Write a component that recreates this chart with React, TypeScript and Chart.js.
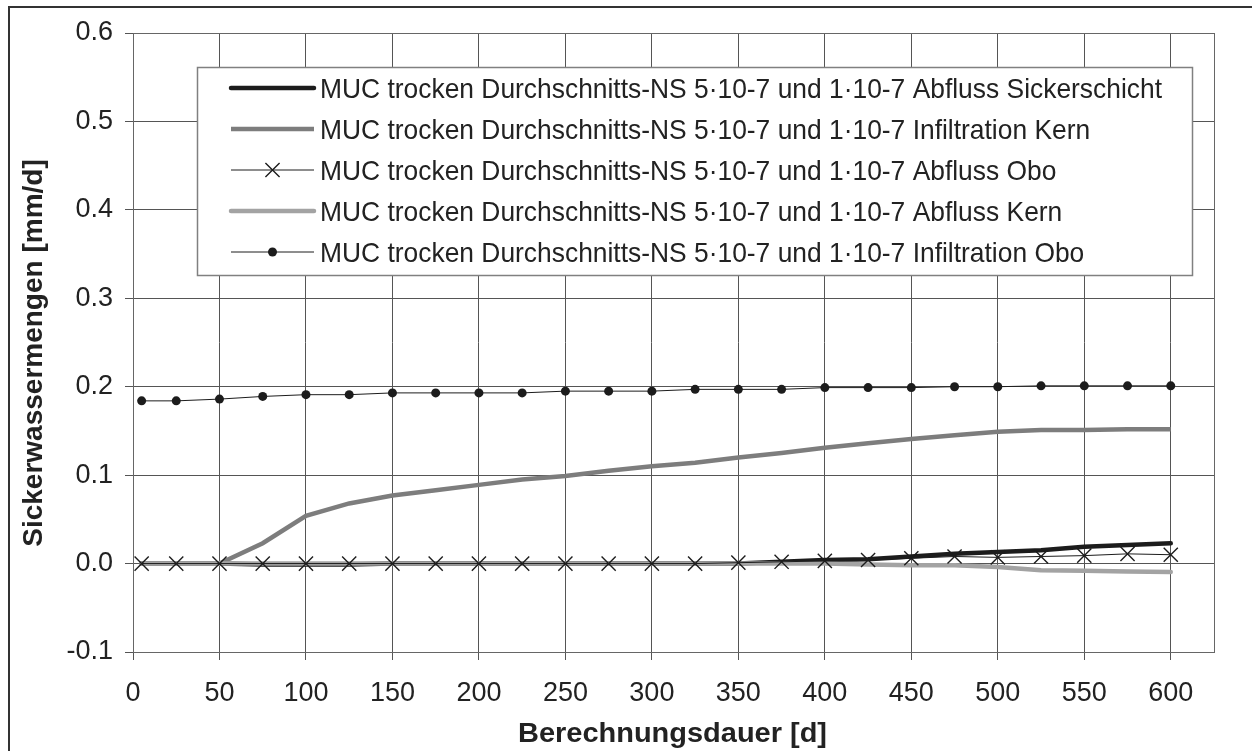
import React, { useEffect, useRef } from 'react';
import { Chart, registerables } from 'chart.js';

Chart.register(...registerables);

// ---- data ----
const days = [5, 25, 50, 75, 100, 125, 150, 175, 200, 225, 250, 275, 300, 325, 350, 375, 400, 425, 450, 475, 500, 525, 550, 575, 600];

const abflussSickerschicht = [0, 0, 0, -0.001, -0.001, -0.001, 0, 0, 0, 0, 0, 0, 0, 0, 0, 0.002, 0.004, 0.005, 0.008, 0.011, 0.013, 0.015, 0.019, 0.021, 0.023];
const infiltrationKern = [0, 0, 0, 0.023, 0.054, 0.068, 0.077, 0.083, 0.089, 0.095, 0.099, 0.105, 0.110, 0.114, 0.120, 0.125, 0.131, 0.136, 0.141, 0.145, 0.149, 0.151, 0.151, 0.152, 0.152];
const abflussObo = [0, 0, 0, 0, 0, 0, 0, 0, 0, 0, 0, 0, 0, 0, 0.001, 0.002, 0.003, 0.004, 0.006, 0.008, 0.007, 0.008, 0.009, 0.011, 0.010];
const abflussKern = [0, 0, 0, 0, 0, 0, 0, 0, 0, 0, 0, 0, 0, 0, 0, 0, 0, -0.001, -0.002, -0.002, -0.004, -0.0075, -0.008, -0.009, -0.0095];
const infiltrationObo = [0.184, 0.184, 0.186, 0.189, 0.191, 0.191, 0.193, 0.193, 0.193, 0.193, 0.195, 0.195, 0.195, 0.197, 0.197, 0.197, 0.199, 0.199, 0.199, 0.2, 0.2, 0.201, 0.201, 0.201, 0.201];

const prefix = 'MUC trocken Durchschnitts-NS 5·10-7 und 1·10-7 ';
const seriesLabels = [
  prefix + 'Abfluss Sickerschicht',
  prefix + 'Infiltration Kern',
  prefix + 'Abfluss Obo',
  prefix + 'Abfluss Kern',
  prefix + 'Infiltration Obo',
];

const xTitle = 'Berechnungsdauer [d]';
const yTitle = 'Sickerwassermengen [mm/d]';

const FONT = '"Liberation Sans", Arial, sans-serif';
const TEXT = '#222';

const toPts = (ys: number[]) => ys.map((y, i) => ({ x: days[i], y }));

const decorPlugin = {
  id: 'decor',
  beforeDraw(chart: any) {
    const ctx = chart.ctx;
    ctx.save();
    ctx.fillStyle = '#fff';
    ctx.fillRect(0, 0, chart.width, chart.height);
    ctx.restore();
  },
  afterDraw(chart: any) {
    const { ctx, chartArea: a } = chart;
    ctx.save();
    // plot area frame
    ctx.strokeStyle = '#666';
    ctx.lineWidth = 1;
    ctx.strokeRect(Math.round(a.left) + 0.5, Math.round(a.top) + 0.5, Math.round(a.right - a.left), Math.round(a.bottom - a.top));
    // outer frame (left + top visible)
    ctx.strokeStyle = '#333';
    ctx.lineWidth = 2;
    ctx.beginPath();
    ctx.moveTo(9, chart.height + 5);
    ctx.lineTo(9, 7);
    ctx.lineTo(chart.width + 5, 7);
    ctx.stroke();

    // legend
    const box = { l: 197, t: 67, r: 1192, b: 275 };
    ctx.fillStyle = '#fff';
    ctx.fillRect(box.l, box.t, box.r - box.l, box.b - box.t);
    ctx.strokeStyle = '#808080';
    ctx.lineWidth = 1.5;
    ctx.strokeRect(box.l + 0.5, box.t + 0.5, box.r - box.l, box.b - box.t);

    const rowY0 = 88;
    const rowStep = 41;
    const lx0 = 231, lx1 = 314, tx = 320;
    ctx.font = `28px ${FONT}`;
    const w = ctx.measureText(seriesLabels[0]).width;
    const sx = 842 / w;
    chart.data.datasets.forEach((ds: any, i: number) => {
      const y = rowY0 + i * rowStep;
      ctx.strokeStyle = ds.borderColor;
      ctx.lineWidth = ds.borderWidth;
      ctx.lineCap = ds.borderCapStyle || 'butt';
      ctx.beginPath();
      ctx.moveTo(lx0, y);
      ctx.lineTo(lx1, y);
      ctx.stroke();
      const mx = (lx0 + lx1) / 2;
      if (ds.pointStyle === 'circle' && ds.pointRadius > 0) {
        ctx.fillStyle = ds.pointBackgroundColor;
        ctx.beginPath();
        ctx.arc(mx, y, ds.pointRadius, 0, Math.PI * 2);
        ctx.fill();
      } else if (ds.pointStyle === 'crossRot' && ds.pointRadius > 0) {
        const o = ds.pointRadius * Math.SQRT1_2;
        ctx.strokeStyle = ds.pointBorderColor;
        ctx.lineWidth = ds.pointBorderWidth;
        ctx.lineCap = 'butt';
        ctx.beginPath();
        ctx.moveTo(mx - o, y - o); ctx.lineTo(mx + o, y + o);
        ctx.moveTo(mx - o, y + o); ctx.lineTo(mx + o, y - o);
        ctx.stroke();
      }
      ctx.save();
      ctx.fillStyle = TEXT;
      ctx.font = `28px ${FONT}`;
      ctx.textBaseline = 'middle';
      ctx.textAlign = 'left';
      ctx.translate(tx, y + 2);
      ctx.scale(sx, 1);
      ctx.fillText(ds.label, 0, 0);
      ctx.restore();
    });

    // axis titles
    ctx.fillStyle = TEXT;
    ctx.font = `bold 28px ${FONT}`;
    ctx.textAlign = 'center';
    ctx.textBaseline = 'alphabetic';
    ctx.save();
    const tw = ctx.measureText(xTitle).width;
    ctx.translate((a.left + a.right) / 2 - 1, 742);
    ctx.scale(309 / tw, 1);
    ctx.fillText(xTitle, 0, 0);
    ctx.restore();
    ctx.save();
    ctx.translate(34, 353);
    ctx.rotate(-Math.PI / 2);
    ctx.textBaseline = 'middle';
    ctx.fillText(yTitle, 0, 0);
    ctx.restore();
    ctx.restore();
  },
};

export default function App() {
  const ref = useRef<HTMLCanvasElement | null>(null);
  useEffect(() => {
    if (!ref.current) return;
    const tickFont = { family: FONT, size: 27 };
    const chart = new Chart(ref.current, {
      type: 'line',
      data: {
        datasets: [
          {
            label: seriesLabels[0], data: toPts(abflussSickerschicht),
            borderColor: '#1c1c1c', borderWidth: 4.5, pointRadius: 0, order: 4,
            borderCapStyle: 'round', borderJoinStyle: 'round',
          },
          {
            label: seriesLabels[1], data: toPts(infiltrationKern),
            borderColor: '#7d7d7d', borderWidth: 4.5, pointRadius: 0, order: 3,
            borderCapStyle: 'butt',
          },
          {
            label: seriesLabels[2], data: toPts(abflussObo),
            borderColor: '#1c1c1c', borderWidth: 1, order: 1,
            pointStyle: 'crossRot', pointRadius: 10, pointBorderWidth: 1.4,
            pointBorderColor: '#1c1c1c', pointBackgroundColor: '#1c1c1c',
          },
          {
            label: seriesLabels[3], data: toPts(abflussKern),
            borderColor: '#a3a3a3', borderWidth: 4.5, pointRadius: 0, order: 2,
            borderCapStyle: 'round', borderJoinStyle: 'round',
          },
          {
            label: seriesLabels[4], data: toPts(infiltrationObo),
            borderColor: '#1c1c1c', borderWidth: 1, order: 0,
            pointStyle: 'circle', pointRadius: 4.5, pointBorderWidth: 0,
            pointBorderColor: '#1c1c1c', pointBackgroundColor: '#1c1c1c',
          },
        ] as any,
      },
      options: {
        responsive: false,
        animation: false,
        events: [],
        layout: { padding: { top: 33, right: 38, bottom: 0, left: 0 } },
        plugins: { legend: { display: false }, tooltip: { enabled: false }, title: { display: false } },
        scales: {
          x: {
            type: 'linear', min: 0, max: 625,
            afterFit: (s: any) => { s.height = 99; },
            ticks: { stepSize: 50, includeBounds: false, padding: 17, font: tickFont, color: TEXT, maxRotation: 0, autoSkip: false },
            grid: { color: '#555', lineWidth: 1, tickLength: 8 },
            border: { color: '#333', width: 1 },
          },
          y: {
            type: 'linear', min: -0.1, max: 0.6,
            afterFit: (s: any) => { s.width = 133; },
            ticks: {
              stepSize: 0.1, padding: 12, font: tickFont, color: TEXT,
              callback: (v: any) => (Math.abs(Number(v)) < 1e-9 ? 0 : Number(v)).toFixed(1),
            },
            grid: { color: '#555', lineWidth: 1, tickLength: 8 },
            border: { color: '#333', width: 1 },
          },
        },
      } as any,
      plugins: [decorPlugin],
    });
    return () => chart.destroy();
  }, []);
  return (
    <div style={{ position: 'fixed', left: 0, top: 0, width: 1252, height: 751, background: '#fff' }}>
      <canvas ref={ref} width={1252} height={751} style={{ display: 'block' }} />
    </div>
  );
}
